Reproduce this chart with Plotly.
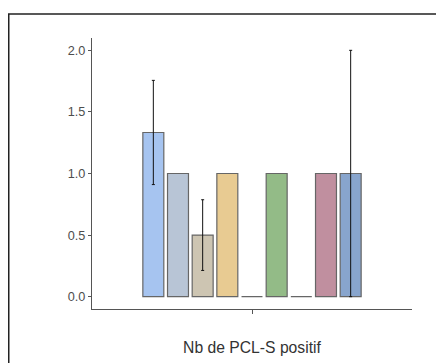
import plotly.graph_objects as go

category = ["Nb de PCL-S positif"]
series_names = ["G1", "G2", "G3", "G4", "G5", "G6", "G7", "G8", "G9"]
series_values = [1.333, 1.0, 0.5, 1.0, 0.0, 1.0, 0.0, 1.0, 1.0]
series_errors = [0.423, None, 0.287, None, None, None, None, None, 1.0]
series_colors = ["#a6c4f0", "#b8c5d6", "#cdc5b2", "#e8cb92", "#b0b0b0",
                 "#93bb87", "#b0b0b0", "#c08f9f", "#88a5cd"]
y_ticks = [0.0, 0.5, 1.0, 1.5, 2.0]
y_ticklabels = ["0.0", "0.5", "1.0", "1.5", "2.0"]

fig = go.Figure()
for name, v, e, c in zip(series_names, series_values, series_errors, series_colors):
    fig.add_trace(go.Bar(
        x=category, y=[v], name=name,
        marker=dict(color=c, line=dict(color="#666666", width=1.2)),
        error_y=dict(type="data", array=[e if e is not None else 0],
                     visible=e is not None, color="#111111",
                     thickness=1, width=1.5),
        showlegend=False,
    ))

# page has an 8px body margin: figure placed at (8, 8)
OFF = 8
W, H = 444 - OFF, 363 - OFF
L, R, T, B = 92 - OFF, 32, 38 - OFF, 54
pw, ph = W - L - R, H - T - B

fig.update_layout(
    width=W, height=H,
    margin=dict(l=L, r=R, t=T, b=B, pad=0),
    paper_bgcolor="white", plot_bgcolor="white",
    barmode="group", bargap=0.1675, bargroupgap=0.15,
    font=dict(family="Liberation Sans, Arial, sans-serif", color="#4d4d4d"),
    xaxis=dict(
        range=[-0.6, 0.6], showticklabels=False,
        showline=True, linecolor="#555555", linewidth=1.2,
        ticks="outside", ticklen=4, tickcolor="#555555",
        showgrid=False, zeroline=False,
        title=dict(text="Nb de PCL-S positif",
                   font=dict(size=15.7, color="#333333"), standoff=28),
    ),
    yaxis=dict(
        range=[-0.1, 2.1], tickvals=y_ticks, ticktext=y_ticklabels,
        tickfont=dict(size=12.7, color="#4d4d4d"),
        showline=True, linecolor="#555555", linewidth=1.2,
        ticks="outside", ticklen=3, tickcolor="#555555",
        showgrid=False, zeroline=False,
    ),
    shapes=[dict(
        type="rect", xref="paper", yref="paper",
        x0=(0.75 - L) / pw, x1=1.5, y0=-0.5, y1=(H - B - (14 - OFF)) / ph,
        line=dict(color="#222222", width=1.5), fillcolor="rgba(0,0,0,0)",
        layer="above",
    )],
)

fig.write_html("out.html")
